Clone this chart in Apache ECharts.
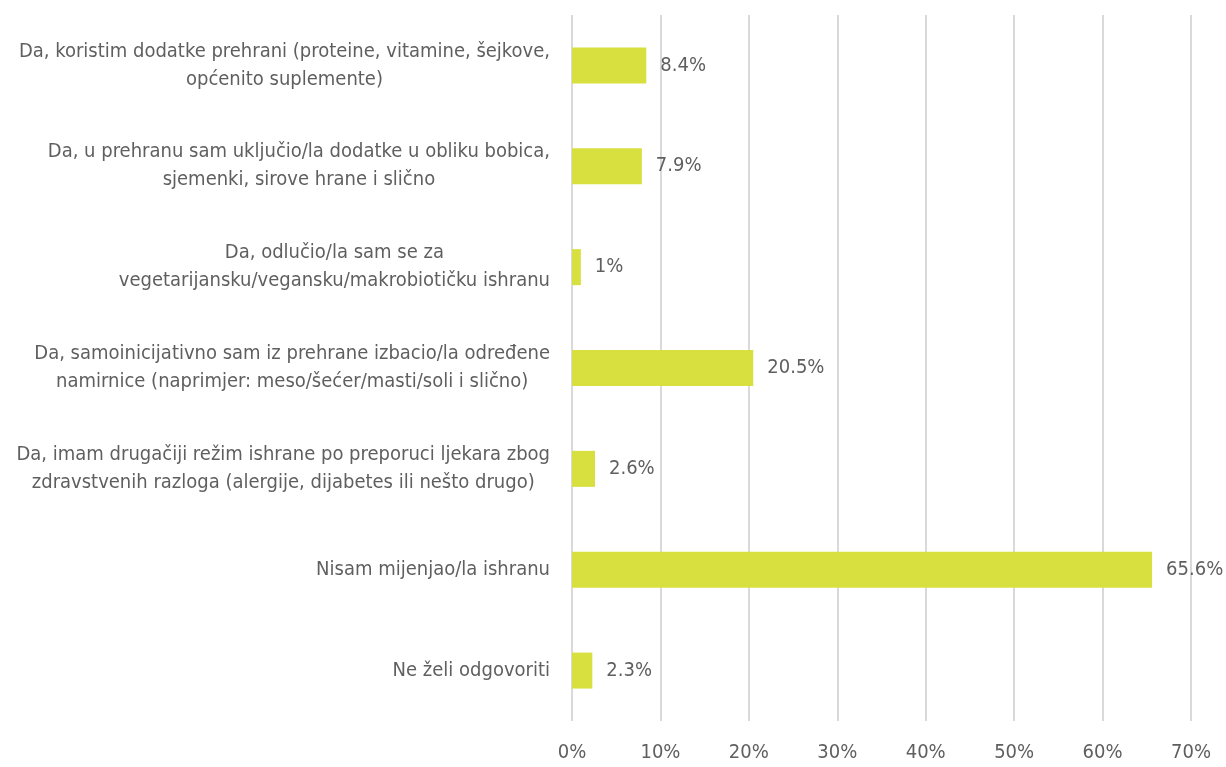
<!DOCTYPE html>
<html>
<head>
<meta charset="utf-8">
<script src="https://cdn.jsdelivr.net/npm/echarts@6/dist/echarts.min.js"></script>
<style>
  html, body { margin: 0; padding: 0; background: #fff; }
  #chart { width: 1226px; height: 767px; }
</style>
</head>
<body>
<div id="chart"></div>
<script>
const categories = [
  'Da, koristim dodatke prehrani (proteine, vitamine, šejkove,\nopćenito suplemente)',
  'Da, u prehranu sam uključio/la dodatke u obliku bobica,\nsjemenki, sirove hrane i slično',
  'Da, odlučio/la sam se za\nvegetarijansku/vegansku/makrobiotičku ishranu',
  'Da, samoinicijativno sam iz prehrane izbacio/la određene\nnamirnice (naprimjer: meso/šećer/masti/soli i slično)',
  'Da, imam drugačiji režim ishrane po preporuci ljekara zbog\nzdravstvenih razloga (alergije, dijabetes ili nešto drugo)',
  'Nisam mijenjao/la ishranu',
  'Ne želi odgovoriti'
]
const values = [8.4, 7.9, 1, 20.5, 2.6, 65.6, 2.3]

const FONT = '"Liberation Sans Narrow", "DejaVu Sans Condensed", "Roboto", sans-serif'
const TEXT = '#5f5f5f'

const chart = echarts.init(document.getElementById('chart'))
chart.setOption({
  animation: false,
  textStyle: { fontFamily: FONT },
  grid: { left: 572, right: 35, top: 15, bottom: 46 },
  xAxis: {
    type: 'value',
    min: 0,
    max: 70,
    interval: 10,
    axisLine: { show: false },
    axisTick: { show: false },
    axisLabel: {
      formatter: '{value}%',
      color: TEXT,
      fontSize: 20,
      fontFamily: FONT,
      margin: 22
    },
    splitLine: { lineStyle: { color: '#d9d9d9', width: 2 } }
  },
  yAxis: {
    type: 'category',
    inverse: true,
    data: categories,
    axisLine: { show: false },
    axisTick: { show: false },
    axisLabel: {
      margin: 22,
      formatter: v => v.split('\n').map(l => '{c|' + l + '}').join('\n'),
      rich: {
        c: { align: 'center', color: TEXT, fontSize: 20, lineHeight: 28, fontFamily: FONT }
      }
    }
  },
  series: [{
    type: 'bar',
    data: values,
    barWidth: 36,
    itemStyle: { color: '#d7e03e' },
    label: {
      show: true,
      position: 'right',
      distance: 14,
      formatter: p => p.value + '%',
      color: TEXT,
      fontSize: 20,
      fontFamily: FONT
    }
  }]
})
</script>
</body>
</html>
